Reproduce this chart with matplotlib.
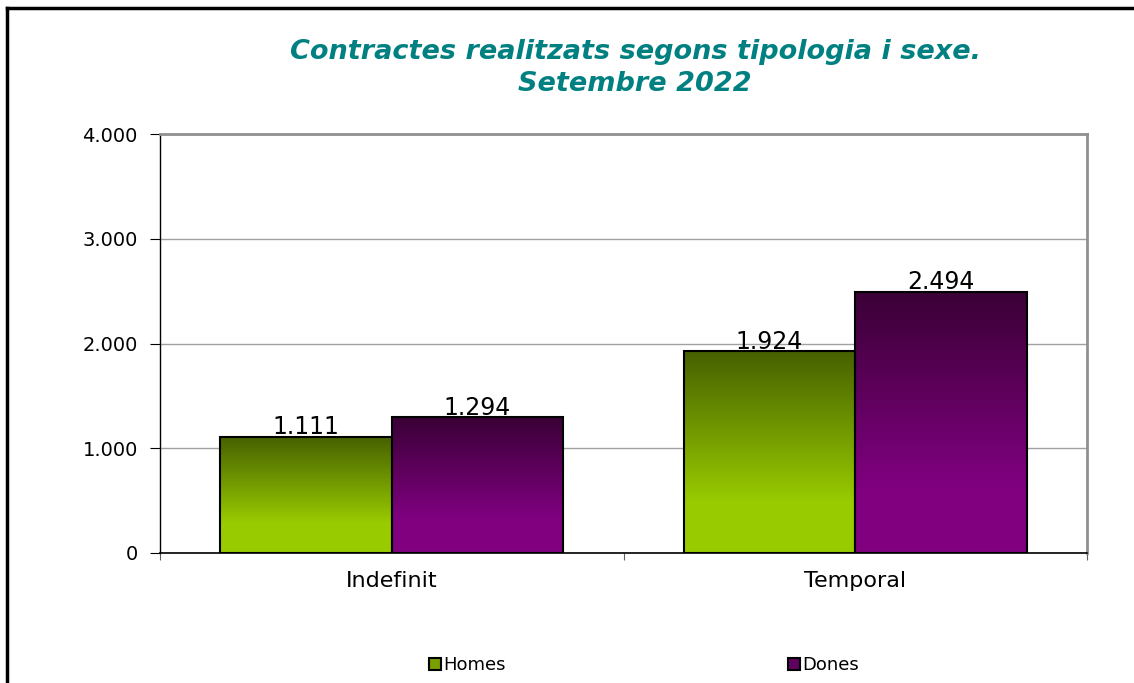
import matplotlib.pyplot as plt
import numpy as np
from matplotlib.patches import Rectangle
from matplotlib.colors import to_rgb

categories = ['Indefinit', 'Temporal']
homes = [1111, 1924]
dones = [1294, 2494]
yticks = [0, 1000, 2000, 3000, 4000]
ytick_labels = ['0', '1.000', '2.000', '3.000', '4.000']
series_names = ['Homes', 'Dones']

plt.rcParams['font.family'] = ['DejaVu Sans']

fig = plt.figure(figsize=(11.34, 6.83), dpi=100)
W, H = 1134, 683
ax = fig.add_axes([160 / W, 1 - 553 / H, (1087 - 160) / W, (553 - 134) / H])

# outer frame (only top and left visible in the crop)
fig.add_artist(plt.Line2D([7 / W, 1], [1 - 8 / H, 1 - 8 / H], color='black', lw=2.5))
fig.add_artist(plt.Line2D([7 / W, 7 / W], [0, 1 - 8 / H], color='black', lw=2.5))


def gradient_bar(ax, x, w, h, top_col, bot_col):
    bar = ax.bar(x, h, w, color='none', edgecolor='black', lw=1.5, zorder=3)[0]
    c1 = np.array(to_rgb(top_col))
    c2 = np.array(to_rgb(bot_col))
    t = np.linspace(0, 1, 256)[:, None]
    t = np.clip(t / 0.75, 0, 1)
    img = (c1 * (1 - t) + c2 * t)[:, None, :]
    im = ax.imshow(img, extent=[x - w / 2, x + w / 2, 0, h], aspect='auto',
                   origin='upper', zorder=2)
    im.set_clip_path(bar)
    return bar


def fmt(v):
    return f'{v:,}'.replace(',', '.')


x = np.arange(len(categories))
w = 0.37
for i in range(len(categories)):
    gradient_bar(ax, x[i] - w / 2, w, homes[i], '#466000', '#99cc00')
    gradient_bar(ax, x[i] + w / 2, w, dones[i], '#3a0036', '#800080')
    ax.text(x[i] - w / 2, homes[i] + 25, fmt(homes[i]),
            ha='center', va='baseline', fontsize=17, zorder=4)
    ax.text(x[i] + w / 2, dones[i] + 25, fmt(dones[i]),
            ha='center', va='baseline', fontsize=17, zorder=4)

ax.set_xlim(-0.5, 1.5)
ax.set_ylim(0, 4000)
ax.set_yticks(yticks)
ax.set_yticklabels(ytick_labels, fontsize=14)
ax.yaxis.grid(True, color='#a0a0a0', lw=1)
ax.set_axisbelow(True)

ax.set_xticks([-0.5, 0.5, 1.5])
ax.set_xticklabels([])
ax.set_xticks(x, minor=True)
ax.set_xticklabels(categories, minor=True, fontsize=16)
ax.tick_params(axis='x', which='minor', length=0, pad=13)
ax.tick_params(axis='x', which='major', length=5, direction='out', color='#606060')
ax.tick_params(axis='y', length=7, direction='out', pad=9)

for s in ['top', 'right']:
    ax.spines[s].set_color('#909090')
    ax.spines[s].set_linewidth(2)
ax.spines['left'].set_color('black')
ax.spines['bottom'].set_color('black')
ax.spines['left'].set_linewidth(1)
ax.spines['bottom'].set_linewidth(1.2)

fig.text(635 / W, 1 - 52 / H, 'Contractes realitzats segons tipologia i sexe.',
         ha='center', va='center', fontsize=19.5, fontweight='bold',
         style='italic', color='#008080')
fig.text(635 / W, 1 - 84 / H, 'Setembre 2022',
         ha='center', va='center', fontsize=19.5, fontweight='bold',
         style='italic', color='#008080')

legend_colors = ['#7aa000', '#600060']
legend_x = [429, 788]
for name, col, lx in zip(series_names, legend_colors, legend_x):
    h = Rectangle((0, 0), 1, 1, facecolor=col, edgecolor='black', lw=1.5)
    fig.legend([h], [name], loc='center left',
               bbox_to_anchor=(lx / W, 1 - 665 / H), frameon=False, fontsize=13,
               handlelength=0.65, handleheight=0.65, handletextpad=0.12,
               borderpad=0, borderaxespad=0)

fig.savefig('out.png', dpi=100)
